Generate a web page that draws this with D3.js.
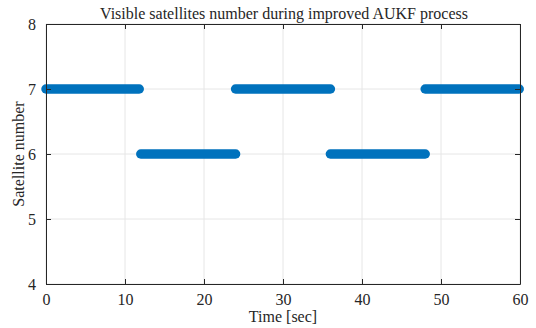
<!DOCTYPE html>
<html><head><meta charset="utf-8">
<script src="https://cdn.jsdelivr.net/npm/d3@7"></script>
<style>body{margin:0;background:#fff}svg{display:block}</style>
</head><body><svg id="c" width="536" height="328"></svg>
<script>
const segStart = [0, 12, 24, 36, 48];
const segEnd   = [11.8, 24, 36, 48, 59.9];
const satCount = [7, 6, 7, 6, 7];
const xTicks = [0, 10, 20, 30, 40, 50, 60];
const yTicks = [4, 5, 6, 7, 8];
const title = "Visible satellites number during improved AUKF process";
const xLabel = "Time [sec]";
const yLabel = "Satellite number";

const FONT = "'Liberation Serif', 'Times New Roman', serif";
const L = 46, R = 520, T = 24, B = 284;
const svg = d3.select("#c");
const x = d3.scaleLinear().domain([0, 60]).range([L, R]);
const y = d3.scaleLinear().domain([4, 8]).range([B, T]);

// grid
svg.append("g").selectAll("line").data(xTicks).join("line")
  .attr("x1", d => x(d)).attr("x2", d => x(d)).attr("y1", T).attr("y2", B)
  .attr("stroke", "#e6e6e6").attr("stroke-width", 1);
svg.append("g").selectAll("line").data(yTicks).join("line")
  .attr("x1", L).attr("x2", R).attr("y1", d => y(d)).attr("y2", d => y(d))
  .attr("stroke", "#e6e6e6").attr("stroke-width", 1);

// data
const segs = segStart.map((s, i) => ({s, e: segEnd[i], v: satCount[i]}));
svg.append("g").selectAll("line").data(segs).join("line")
  .attr("x1", d => x(d.s)).attr("x2", d => x(d.e))
  .attr("y1", d => y(d.v)).attr("y2", d => y(d.v))
  .attr("stroke", "#0072BD").attr("stroke-width", 9.5).attr("stroke-linecap", "round");

// axes
const fmt = d3.format("d");
svg.append("g").attr("transform", `translate(0,${B})`)
  .call(d3.axisBottom(x).tickValues(xTicks).tickFormat(fmt).tickSizeInner(-5).tickSizeOuter(0).tickPadding(10));
svg.append("g").attr("transform", `translate(${L},0)`)
  .call(d3.axisLeft(y).tickValues(yTicks).tickFormat(fmt).tickSizeInner(-5).tickSizeOuter(0).tickPadding(10));
svg.append("g").attr("transform", `translate(0,${T})`)
  .call(d3.axisTop(x).tickValues(xTicks).tickSizeInner(-5).tickSizeOuter(0).tickFormat(""));
svg.append("g").attr("transform", `translate(${R},0)`)
  .call(d3.axisRight(y).tickValues(yTicks).tickSizeInner(-5).tickSizeOuter(0).tickFormat(""));
svg.selectAll("g").attr("font-family", FONT);
svg.selectAll(".domain").attr("stroke", "#262626").attr("stroke-width", 1);
svg.selectAll(".tick line").attr("stroke", "#262626");
svg.selectAll(".tick text").style("font-family", FONT).style("font-size", "16px").attr("fill", "#262626");

svg.append("text").attr("x", (L + R) / 2 + 1).attr("y", 19).attr("text-anchor", "middle")
  .style("font-family", FONT).style("font-size", "16px").attr("fill", "#262626").text(title);
svg.append("text").attr("x", (L + R) / 2).attr("y", 322).attr("text-anchor", "middle")
  .style("font-family", FONT).style("font-size", "16px").attr("fill", "#262626").text(xLabel);
svg.append("text").attr("transform", `translate(24,${(T + B) / 2}) rotate(-90)`)
  .attr("text-anchor", "middle").style("font-family", FONT).style("font-size", "16px").attr("fill", "#262626").text(yLabel);
</script></body></html>
